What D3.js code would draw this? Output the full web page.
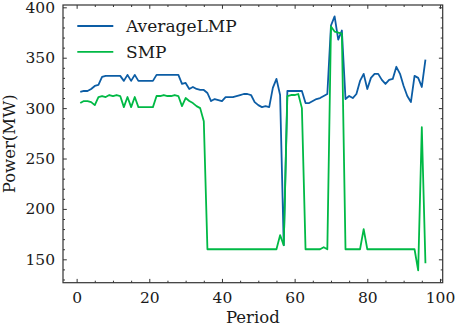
<!DOCTYPE html>
<html>
<head>
<meta charset="utf-8">
<script src="https://cdn.jsdelivr.net/npm/d3@7"></script>
<style>
  body { margin: 0; background: #fff; }
  svg { display: block; font-family: "DejaVu Serif", serif; }
  .axis path, .axis line { stroke: #333; }
  .axis text { fill: #1a1a1a; font-size: 15.5px; font-family: "DejaVu Serif", serif; }
</style>
</head>
<body>
<div id="chart"></div>
<script>
const periods = d3.range(1, 97)

const averageLMP = [
    316, 317, 317, 319, 322, 323, 331, 332, 332, 332, 332, 332,
    327, 333, 327, 333, 327, 327, 327, 327, 327,
    333, 333, 333, 333, 333, 333, 333,
    324, 325, 319, 321, 319, 318, 318, 315,
    307, 309, 308, 307, 311, 311, 311, 312, 313, 314, 314, 313, 306, 303, 301, 302, 301, 320, 329, 313, 164,
    317, 317, 317, 317, 317, 305, 305, 307, 309, 310, 312, 314,
    382, 391, 368, 377, 309,
    312, 310, 314, 327, 334, 319, 330, 334, 334, 328, 324, 328, 329, 341, 334, 322, 312, 306, 332, 330, 321, 348
]

const smp = [
    305, 307, 307, 306, 303, 311, 312, 311, 313, 312, 313, 312,
    301, 311, 301, 311, 301, 301, 301, 301, 301,
    312, 312, 313, 312, 312, 313, 312,
    302, 310, 307, 305, 302, 300, 287, 160,
    160, 160, 160, 160, 160, 160, 160, 160, 160, 160, 160, 160, 160, 160, 160, 160, 160, 160, 160, 174, 164,
    312, 313, 313, 314, 300, 160, 160, 160, 160, 160, 162, 160,
    381, 376, 375, 374, 160,
    160, 160, 160, 160, 180, 160,
    160, 160, 160, 160, 160, 160, 160, 160, 160, 160, 160, 160, 160,
    139, 281, 146
]

const xTicks = [0, 20, 40, 60, 80, 100]
const yTicks = [150, 200, 250, 300, 350, 400]
const seriesNames = ["AverageLMP", "SMP"]
const seriesColors = ["#0C5DA5", "#00B945"]

const width = 457, height = 327
const margin = { top: 5, right: 14.3, bottom: 44.3, left: 63 }

const svg = d3.select("#chart").append("svg")
    .attr("width", width)
    .attr("height", height)

const xScale = d3.scaleLinear().domain([-3.75, 100.75]).range([margin.left, width - margin.right])
const yScale = d3.scaleLinear().domain([126.8, 402.3]).range([height - margin.bottom, margin.top])

// minor ticks every 5 on x, every 10 on y
const xMinor = d3.range(0, 101, 5).filter(v => xTicks.indexOf(v) < 0)
const yMinor = d3.range(130, 401, 10).filter(v => yTicks.indexOf(v) < 0)

function addAxis(axisFn, scale, ticks, minor, transform, showLabels, pad) {
    svg.append("g")
        .attr("class", "axis")
        .attr("transform", transform)
        .call(axisFn(scale).tickValues(minor).tickSize(-2).tickFormat(""))
        .call(g => g.select(".domain").remove())
    const g = svg.append("g")
        .attr("class", "axis")
        .attr("transform", transform)
        .call(axisFn(scale).tickValues(ticks).tickSizeInner(-3.8).tickSizeOuter(0).tickPadding(pad))
    g.select(".domain").remove()
    if (!showLabels) g.selectAll("text").remove()
}

const bottomY = height - margin.bottom
const rightX = width - margin.right

addAxis(d3.axisBottom, xScale, xTicks, xMinor, `translate(0,${bottomY})`, true, 9)
addAxis(d3.axisTop, xScale, xTicks, xMinor, `translate(0,${margin.top})`, false, 0)
addAxis(d3.axisLeft, yScale, yTicks, yMinor, `translate(${margin.left},0)`, true, 8)
addAxis(d3.axisRight, yScale, yTicks, yMinor, `translate(${rightX},0)`, false, 0)

// lines
const line = d3.line()
    .x((d, i) => xScale(periods[i]))
    .y(d => yScale(d))

;[averageLMP, smp].forEach((values, k) => {
    svg.append("path")
        .datum(values)
        .attr("fill", "none")
        .attr("stroke", seriesColors[k])
        .attr("stroke-width", 1.8)
        .attr("stroke-linejoin", "round")
        .attr("d", line)
})

// frame
svg.append("rect")
    .attr("x", margin.left)
    .attr("y", margin.top)
    .attr("width", rightX - margin.left)
    .attr("height", bottomY - margin.top)
    .attr("fill", "none")
    .attr("stroke", "#333")
    .attr("stroke-width", 1.2)

// legend
const legend = svg.append("g")
seriesNames.forEach((name, k) => {
    const ly = 26 + k * 25.8
    legend.append("line")
        .attr("x1", 77.3).attr("x2", 113.3)
        .attr("y1", ly).attr("y2", ly)
        .attr("stroke", seriesColors[k])
        .attr("stroke-width", 1.8)
    legend.append("text")
        .attr("x", 126)
        .attr("y", ly)
        .attr("dy", "0.36em")
        .attr("font-size", 17)
        .attr("fill", "#1a1a1a")
        .text(name)
})

// axis titles
svg.append("text")
    .attr("x", (margin.left + rightX) / 2)
    .attr("y", 322.5)
    .attr("text-anchor", "middle")
    .attr("font-size", 16.5)
    .attr("fill", "#1a1a1a")
    .text("Period")

svg.append("text")
    .attr("transform", `translate(15,${(margin.top + bottomY) / 2}) rotate(-90)`)
    .attr("text-anchor", "middle")
    .attr("font-size", 16.5)
    .attr("fill", "#1a1a1a")
    .text("Power(MW)")
</script>
</body>
</html>
